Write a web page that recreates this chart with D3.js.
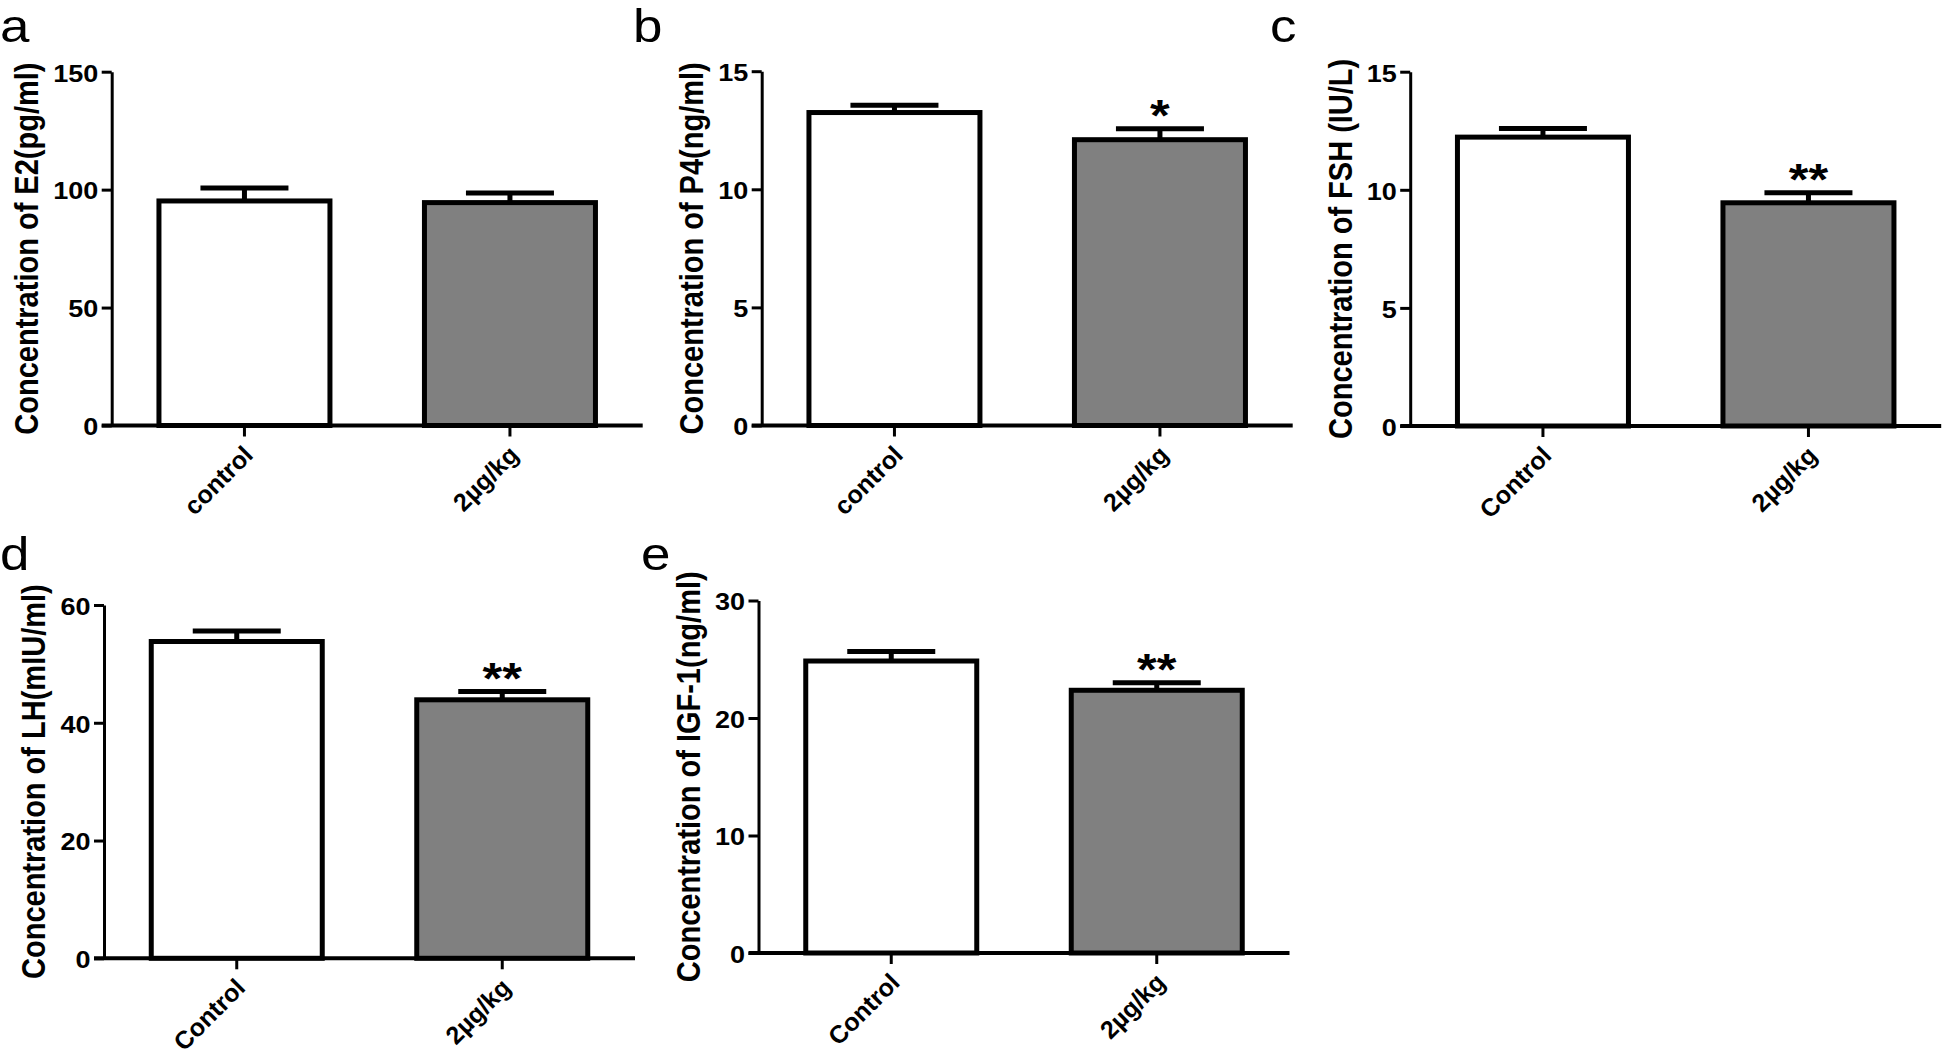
<!DOCTYPE html>
<html>
<head>
<meta charset="utf-8">
<script src="https://cdn.jsdelivr.net/npm/d3@7"></script>
<style>
  html, body { margin: 0; padding: 0; background: #ffffff; }
  svg { display: block; }
  text { font-family: "Liberation Sans", Arial, sans-serif; fill: #000; }
</style>
</head>
<body>
<script>
// ---------------- data ----------------
const catsLower = ["control", "2µg/kg"];
const catsUpper = ["Control", "2µg/kg"];

const e2Means = [95.2, 94.5];
const e2Sem = [5.5, 4.1];
const e2Ticks = [0, 50, 100, 150];

const p4Means = [13.25, 12.1];
const p4Sem = [0.31, 0.46];
const p4Ticks = [0, 5, 10, 15];

const fshMeans = [12.23, 9.45];
const fshSem = [0.36, 0.42];
const fshTicks = [0, 5, 10, 15];

const lhMeans = [53.8, 43.9];
const lhSem = [1.8, 1.4];
const lhTicks = [0, 20, 40, 60];

const igfMeans = [24.85, 22.36];
const igfSem = [0.8, 0.63];
const igfTicks = [0, 10, 20, 30];

const e2Sig = ["", ""];
const p4Sig = ["", "*"];
const fshSig = ["", "**"];
const lhSig = ["", "**"];
const igfSig = ["", "**"];

const titles = [
  "Concentration of E2(pg/ml)",
  "Concentration of P4(ng/ml)",
  "Concentration of FSH (IU/L)",
  "Concentration of LH(mIU/ml)",
  "Concentration of IGF-1(ng/ml)"
];
const panelLetters = ["a", "b", "c", "d", "e"];
const barFills = ["#ffffff", "#808080"];

// ---------------- layout ----------------
const W = 1944, H = 1058;
const K = 1.15; // horizontal stretch of the original figure's text

const panels = [
  { cats: catsLower, means: e2Means, sem: e2Sem, ticks: e2Ticks, sig: e2Sig,
    axisX: 111.7, top: 71.7, zero: 425.5, letterX: 0, letterY: 42 },
  { cats: catsLower, means: p4Means, sem: p4Sem, ticks: p4Ticks, sig: p4Sig,
    axisX: 761.7, top: 71.2, zero: 425.5, letterX: 633, letterY: 42 },
  { cats: catsUpper, means: fshMeans, sem: fshSem, ticks: fshTicks, sig: fshSig,
    axisX: 1410.2, top: 71.7, zero: 426, letterX: 1270, letterY: 42 },
  { cats: catsUpper, means: lhMeans, sem: lhSem, ticks: lhTicks, sig: lhSig,
    axisX: 104, top: 605, zero: 958.3, letterX: 0, letterY: 570 },
  { cats: catsUpper, means: igfMeans, sem: igfSem, ticks: igfTicks, sig: igfSig,
    axisX: 758.5, top: 600.5, zero: 953, letterX: 641, letterY: 570 }
];

const svg = d3.select("body").append("svg")
  .attr("width", W).attr("height", H)
  .attr("viewBox", `0 0 ${W} ${H}`);

svg.append("rect").attr("width", W).attr("height", H).attr("fill", "#fff");

const axisLen = 531;
const barW = 171;
const capW = 88;

panels.forEach((p, i) => {
  const g = svg.append("g");

  const x = d3.scaleBand().domain(p.cats).range([p.axisX, p.axisX + axisLen])
    .paddingInner(0).paddingOuter(0);
  const y = d3.scaleLinear().domain([0, d3.max(p.ticks)]).range([p.zero, p.top]);
  const cx = c => x(c) + x.bandwidth() / 2;

  const rows = p.cats.map((c, j) => ({ c, m: p.means[j], s: p.sem[j], sig: p.sig[j], fill: barFills[j] }));

  // bars
  g.selectAll("rect.bar").data(rows).join("rect")
    .attr("class", "bar")
    .attr("x", d => cx(d.c) - barW / 2)
    .attr("width", barW)
    .attr("y", d => y(d.m))
    .attr("height", d => y(0) - y(d.m))
    .attr("fill", d => d.fill)
    .attr("stroke", "#000")
    .attr("stroke-width", 5);

  // error bars (upper only)
  g.selectAll("line.stem").data(rows).join("line")
    .attr("class", "stem")
    .attr("x1", d => cx(d.c)).attr("x2", d => cx(d.c))
    .attr("y1", d => y(d.m)).attr("y2", d => y(d.m + d.s))
    .attr("stroke", "#000").attr("stroke-width", 5);
  g.selectAll("line.cap").data(rows).join("line")
    .attr("class", "cap")
    .attr("x1", d => cx(d.c) - capW / 2).attr("x2", d => cx(d.c) + capW / 2)
    .attr("y1", d => y(d.m + d.s)).attr("y2", d => y(d.m + d.s))
    .attr("stroke", "#000").attr("stroke-width", 5);

  // significance stars
  g.selectAll("text.sig").data(rows.filter(d => d.sig)).join("text")
    .attr("class", "sig")
    .attr("text-anchor", "middle")
    .attr("font-weight", "bold")
    .attr("font-size", 44)
    .attr("transform", d => `translate(${cx(d.c)},${y(d.m + d.s) + 2}) scale(${K},1)`)
    .text(d => d.sig);

  // y axis
  const yAxis = d3.axisLeft(y).tickValues(p.ticks).tickSize(10).tickSizeOuter(0)
    .tickFormat(d3.format("d"));
  const ya = g.append("g").attr("transform", `translate(${p.axisX},0)`).call(yAxis);
  ya.select(".domain").attr("stroke", "#000").attr("stroke-width", 3);
  ya.selectAll(".tick line").attr("stroke", "#000").attr("stroke-width", 3);
  ya.selectAll(".tick text")
    .attr("x", null).attr("dy", null)
    .attr("font-family", "Liberation Sans, Arial, sans-serif")
    .attr("font-size", 23.5)
    .attr("font-weight", "bold")
    .attr("fill", "#000")
    .attr("dominant-baseline", "central")
    .attr("text-anchor", "end")
    .attr("transform", `translate(-13.5,1) scale(${K},1)`);

  // x axis
  const xAxis = d3.axisBottom(x).tickSize(11).tickSizeOuter(0);
  const xa = g.append("g").attr("transform", `translate(0,${p.zero})`).call(xAxis);
  xa.select(".domain").remove();
  xa.selectAll(".tick line").attr("stroke", "#000").attr("stroke-width", 3);
  xa.selectAll(".tick text")
    .attr("y", null).attr("dy", null)
    .attr("font-family", "Liberation Sans, Arial, sans-serif")
    .attr("font-size", 25)
    .attr("font-weight", "bold")
    .attr("fill", "#000")
    .attr("text-anchor", "end")
    .attr("transform", `translate(10,31) rotate(-45)`);
  g.append("line")
    .attr("x1", p.axisX - 10).attr("x2", p.axisX + axisLen)
    .attr("y1", y(0)).attr("y2", y(0))
    .attr("stroke", "#000").attr("stroke-width", 4);

  // y title, placed a fixed gap left of the widest tick label
  let minLeft = Infinity;
  ya.selectAll(".tick text").each(function () {
    const b = this.getBBox();
    const w = b.width * K;
    minLeft = Math.min(minLeft, p.axisX - 13.5 - w);
  });
  const tx = minLeft - 15;
  const ty = (p.top + p.zero) / 2;
  g.append("text")
    .attr("text-anchor", "middle")
    .attr("font-weight", "bold")
    .attr("font-size", 29)
    .attr("transform", `translate(${tx},${ty}) scale(${K},1) rotate(-90)`)
    .text(titles[i]);

  // panel letter
  svg.append("text")
    .attr("font-size", 46)
    .attr("transform", `translate(${p.letterX},${p.letterY}) scale(${K},1)`)
    .text(panelLetters[i]);
});
</script>
</body>
</html>
